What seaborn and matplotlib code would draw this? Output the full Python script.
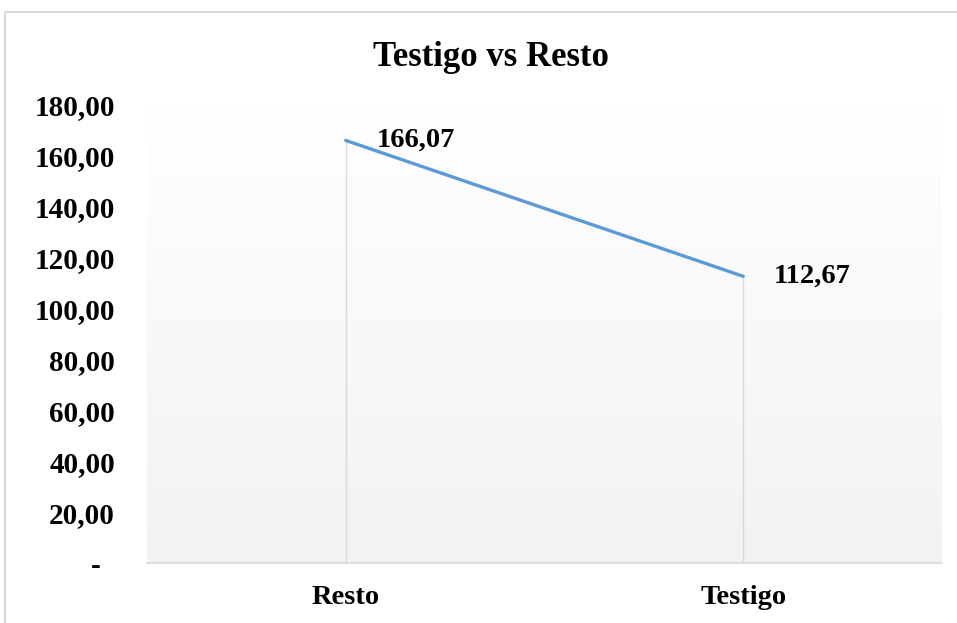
import numpy as np
import pandas as pd
import matplotlib
matplotlib.use("Agg")
import matplotlib.pyplot as plt
import seaborn as sns
from matplotlib.patches import Rectangle

# data
categories = ["Resto", "Testigo"]
values = [166.07, 112.67]
y_ticks = [0, 20, 40, 60, 80, 100, 120, 140, 160, 180]
title = "Testigo vs Resto"

df = pd.DataFrame({"grupo": categories, "valor": values})

sns.set_style("white")
plt.rcParams["font.family"] = ["Liberation Serif", "DejaVu Serif"]
plt.rcParams["font.weight"] = "bold"
plt.rcParams["text.color"] = "black"
plt.rcParams["xtick.color"] = "black"
plt.rcParams["ytick.color"] = "black"

fig = plt.figure(figsize=(9.57, 6.23), dpi=100)
ax = fig.add_axes([147 / 957, 60 / 623, 795 / 957, 458 / 623])

# gradient background of the plot area (white on top -> light grey at bottom)
grad = np.linspace(1, 0, 256).reshape(-1, 1)
cmap = matplotlib.colors.LinearSegmentedColormap.from_list("g", ["#F2F2F2", "#FFFFFF"])
ax.imshow(grad, extent=[-0.5, 1.5, 0, 180], aspect="auto", cmap=cmap, zorder=0,
          origin="upper")

# drop lines
for i, v in enumerate(values):
    ax.plot([i, i], [0, v], color="#D9D9D9", lw=1.0, zorder=1)

sns.lineplot(data=df, x="grupo", y="valor", ax=ax, color="#5B9BD5", lw=2.4,
             sort=False, zorder=3)

for i, v in enumerate(values):
    ax.annotate(f"{v:.2f}".replace(".", ","), (i, v), xytext=(22, 0),
                textcoords="offset points", ha="left", va="center",
                fontsize=20.5, fontweight="bold", color="black")

ax.set_xlim(-0.5, 1.5)
ax.set_ylim(0, 180)
ax.set_yticks(y_ticks)
ax.set_yticklabels(["-  "] + [f"{t:.2f}".replace(".", ",") for t in y_ticks[1:]])
ax.set_xticks(range(len(categories)))
ax.set_xticklabels(categories)
ax.tick_params(axis="y", length=0, pad=23, labelsize=21)
ax.tick_params(axis="x", length=0, pad=16, labelsize=20.5)
for lab in ax.get_xticklabels() + ax.get_yticklabels():
    lab.set_fontweight("bold")
ax.set_xlabel("")
ax.set_ylabel("")
for s in ["left", "right", "top"]:
    ax.spines[s].set_visible(False)
ax.spines["bottom"].set_color("#D9D9D9")
ax.spines["bottom"].set_linewidth(1.2)
ax.grid(False)

fig.text(491 / 957, 1 - 57 / 623, title, ha="center", va="center",
         fontsize=25, fontweight="bold", color="black")

# outer chart border
fig.patches.append(Rectangle((5 / 957, -0.1), 1.0, (623 - 12) / 623 + 0.1,
                             transform=fig.transFigure, fill=False,
                             edgecolor="#D9D9D9", lw=1.5))

fig.savefig("out.png", dpi=100)
